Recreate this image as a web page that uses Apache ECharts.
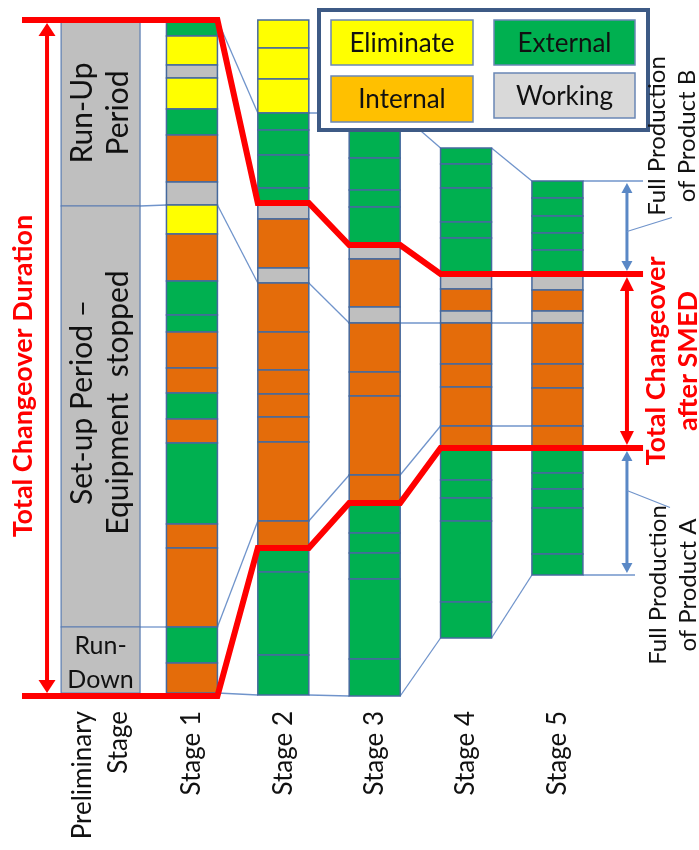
<!DOCTYPE html>
<html><head><meta charset="utf-8">
<script src="https://cdn.jsdelivr.net/npm/echarts@6/dist/echarts.min.js"></script>
<style>html,body{margin:0;padding:0;background:#fff}#chart{width:699px;height:850px}</style>
</head><body><div id="chart"></div>
<script>
// ---------------- DATA ----------------
const columnLabels = ['Preliminary\nStage', 'Stage 1', 'Stage 2', 'Stage 3', 'Stage 4', 'Stage 5'];
const activityTypes = ['Eliminate', 'External', 'Internal', 'Working'];
const activityCodes = ['Y', 'E', 'I', 'W'];

const prelimPhases = ['Run-Up\nPeriod', 'Set-up Period –\nEquipment  stopped', 'Run-\nDown'];
const prelimDurations = [186, 421, 66];

const stageStarts = [0, 0, 93, 128, 161];

const stage1Types = ['E','Y','W','Y','E','I','W','Y','I','E','E','I','I','E','I','E','I','I','E','I'];
const stage1Durations = [16,29,13,31,26,47,23,29,47,34,17,36,25,26,24,81,24,79,36,30];
const stage2Types = ['Y','Y','Y','E','E','E','E','W','I','W','I','I','I','I','I','I','I','E','E','E'];
const stage2Durations = [28,31,34,17,25,33,15,16,49,15,49,38,24,23,25,79,27,24,83,40];
const stage3Types = ['E','E','E','E','W','I','W','I','I','I','I','E','E','E','E','E'];
const stage3Durations = [45,32,17,38,14,48,16,49,24,79,28,30,20,26,80,37];
const stage4Types = ['E','E','E','E','E','W','I','W','I','I','I','I','E','E','E','E','E'];
const stage4Durations = [16,24,34,16,36,15,22,12,41,23,39,22,32,18,23,81,36];
const stage5Types = ['E','E','E','E','E','W','I','W','I','I','I','I','E','E','E','E','E'];
const stage5Durations = [17,18,17,17,24,16,21,12,41,24,38,22,25,16,19,46,21];

// changeover window per column (Preliminary, Stage 1..5)
const changeoverStart = [0, 0, 183, 225, 254, 254];
const changeoverEnd = [676, 676, 528, 483, 428, 428];

// milestone connector lines per column (Preliminary, Stage 1..5)
const connectorA = [null, 0, 93, 93, 128, 161];
const connectorB = [186, 185, 263, 303, 303, 303];
const connectorC = [607, 607, 501, 455, 406, 406];
const connectorD = [null, 673, 675, 676, 618, 555];

// ---------------- STYLE / LAYOUT ----------------
const FONT = 'Lato';
const barColors = { Y: '#FFFF00', E: '#00B050', I: '#E46C0A', W: '#BFBFBF' };
const legendColors = ['#FFFF00', '#00B050', '#FFC000', '#D9D9D9'];
const segStroke = '#45699E';
const connColor = '#7094CB';
const arrowBlue = '#5A88C6';
const RED = '#FF0000';
const stageHalf = 0.279, prelimHalf = 0.432;
const leftArrowX = -0.586, rightArrowX = 5.761, redLeftX = -0.86, redRightX = 5.937, blueTopExtX = 5.937, blueBotExtX = 5.849;

const stageTypes = [stage1Types, stage2Types, stage3Types, stage4Types, stage5Types];
const stageDurations = [stage1Durations, stage2Durations, stage3Durations, stage4Durations, stage5Durations];

const segData = [];
stageTypes.forEach((types, si) => {
  let t = stageStarts[si];
  types.forEach((c, k) => {
    const d = stageDurations[si][k];
    segData.push([si + 1, t, t + d, activityCodes.indexOf(c)]);
    t += d;
  });
});
const prelimData = [];
{
  let t = 0;
  prelimDurations.forEach((d, k) => { prelimData.push([0, t, t + d, k]); t += d; });
}

function renderSeg(params, api) {
  const ci = api.value(0), s = api.value(1), e = api.value(2), ty = api.value(3);
  const p1 = api.coord([ci - stageHalf, s]);
  const p2 = api.coord([ci + stageHalf, e]);
  return { type: 'rect', shape: { x: p1[0], y: p1[1], width: p2[0] - p1[0], height: p2[1] - p1[1] },
    style: { fill: barColors[activityCodes[ty]], stroke: segStroke, lineWidth: 1.5 } };
}

function renderPrelim(params, api) {
  const ci = api.value(0), s = api.value(1), e = api.value(2), k = api.value(3);
  const p1 = api.coord([ci - prelimHalf, s]);
  const p2 = api.coord([ci + prelimHalf, e]);
  const cx = (p1[0] + p2[0]) / 2, cy = (p1[1] + p2[1]) / 2;
  const horizontal = k === 2;
  return { type: 'group', children: [
    { type: 'rect', shape: { x: p1[0], y: p1[1], width: p2[0] - p1[0], height: p2[1] - p1[1] },
      style: { fill: '#BFBFBF', stroke: '#5B7DB1', lineWidth: 1.2 } },
    { type: 'text', x: cx, y: horizontal ? cy + 3 : cy - (k === 1 ? 14 : 0), rotation: horizontal ? 0 : Math.PI / 2,
      style: { text: prelimPhases[k], font: (horizontal ? 25 : 30) + 'px ' + FONT, fill: '#111',
        align: 'center', textAlign: 'center', verticalAlign: 'middle', textVerticalAlign: 'middle',
        lineHeight: horizontal ? 34 : 36 } }
  ] };
}

function renderLabels(params, api) {
  const ci = api.value(0);
  const p = api.coord([ci, changeoverEnd[1]]);
  return { type: 'text', x: p[0], y: p[1] + 15, rotation: Math.PI / 2,
    style: { text: columnLabels[ci], font: '26px ' + FONT, fill: '#111', align: 'right', textAlign: 'right',
      verticalAlign: 'middle', textVerticalAlign: 'middle', lineHeight: 36 } };
}

function renderConnectors(params, api) {
  const lines = [connectorA, connectorB, connectorC, connectorD];
  const children = [];
  lines.forEach((arr, li) => {
    for (let i = 0; i < arr.length - 1; i++) {
      if (arr[i] == null || arr[i + 1] == null) continue;
      const hi = i === 0 ? prelimHalf : stageHalf;
      const a = api.coord([i + hi, arr[i]]);
      const b = api.coord([i + 1 - stageHalf, arr[i + 1]]);
      children.push({ type: 'line', shape: { x1: a[0], y1: a[1], x2: b[0], y2: b[1] }, style: { stroke: connColor, lineWidth: 1.3 } });
    }
  });
  const last = columnLabels.length - 1;
  [[connectorA, blueTopExtX], [connectorD, blueBotExtX]].forEach(([arr, ex]) => {
    const a = api.coord([last + stageHalf, arr[last]]);
    const b = api.coord([ex, arr[last]]);
    children.push({ type: 'line', shape: { x1: a[0], y1: a[1], x2: b[0], y2: b[1] }, style: { stroke: connColor, lineWidth: 1.3 } });
  });
  return { type: 'group', children };
}

function renderRed(params, api) {
  const children = [];
  [changeoverStart, changeoverEnd].forEach(arr => {
    const pts = [api.coord([redLeftX, arr[1]])];
    for (let i = 1; i < arr.length; i++) {
      pts.push(api.coord([i - stageHalf, arr[i]]));
      pts.push(api.coord([i + stageHalf, arr[i]]));
    }
    pts.push(api.coord([redRightX, arr[arr.length - 1]]));
    children.push({ type: 'polyline', shape: { points: pts }, style: { stroke: RED, lineWidth: 6, fill: null, lineJoin: 'miter' } });
  });
  return { type: 'group', children };
}

function arrow(x, y1, y2, color, w, headW, headL) {
  return [
    { type: 'line', shape: { x1: x, y1: y1 + headL * 0.6, x2: x, y2: y2 - headL * 0.6 }, style: { stroke: color, lineWidth: w } },
    { type: 'polygon', shape: { points: [[x, y1], [x - headW / 2, y1 + headL], [x + headW / 2, y1 + headL]] }, style: { fill: color } },
    { type: 'polygon', shape: { points: [[x, y2], [x - headW / 2, y2 - headL], [x + headW / 2, y2 - headL]] }, style: { fill: color } }
  ];
}

function renderArrows(params, api) {
  const last = columnLabels.length - 1;
  const stage5End = stageStarts[4] + stage5Durations.reduce((a, b) => a + b, 0);
  const L1 = api.coord([leftArrowX, changeoverStart[1]]), L2 = api.coord([leftArrowX, changeoverEnd[1]]);
  const R0 = api.coord([rightArrowX, stageStarts[4]]);
  const R1 = api.coord([rightArrowX, changeoverStart[last]]);
  const R2 = api.coord([rightArrowX, changeoverEnd[last]]);
  const R3 = api.coord([rightArrowX, stage5End]);
  let children = [];
  children = children.concat(arrow(L1[0], L1[1] + 3, L2[1] - 3, RED, 4, 17, 13));
  children = children.concat(arrow(R1[0], R1[1] + 3, R2[1] - 3, RED, 4, 14, 14));
  children = children.concat(arrow(R0[0], R0[1] + 2, R1[1] - 3, arrowBlue, 3, 11, 10));
  children = children.concat(arrow(R2[0], R2[1] + 3, R3[1] - 2, arrowBlue, 3, 11, 10));
  const midB = (R0[1] + R1[1]) / 2, midA = (R2[1] + R3[1]) / 2;
  children.push({ type: 'line', shape: { x1: R0[0], y1: midB + 4, x2: R0[0] + 45, y2: midB - 10 }, style: { stroke: connColor, lineWidth: 1.2 } });
  children.push({ type: 'line', shape: { x1: R0[0], y1: midA - 21, x2: R0[0] + 43, y2: midA - 4 }, style: { stroke: connColor, lineWidth: 1.2 } });
  return { type: 'group', children };
}

// legend graphic
const legendBoxes = [
  [331, 20, 142, 45], [494, 20, 141, 45], [331, 76, 142, 46], [494, 73, 141, 45]
];
const legendOrder = [0, 1, 2, 3];
const graphic = [
  { type: 'rect', z: 100, shape: { x: 319, y: 10, width: 329, height: 120 }, style: { fill: '#fff', stroke: '#3D5A85', lineWidth: 4 } }
];
legendOrder.forEach((k, i) => {
  const b = legendBoxes[i];
  graphic.push({ type: 'rect', z: 101, shape: { x: b[0], y: b[1], width: b[2], height: b[3] }, style: { fill: legendColors[k], stroke: '#6A87B5', lineWidth: 1.5 } });
  graphic.push({ type: 'text', z: 102, x: b[0] + b[2] / 2, y: b[1] + b[3] / 2 + 1,
    style: { text: activityTypes[k], font: '26px ' + FONT, fill: '#111', align: 'center', textAlign: 'center', verticalAlign: 'middle', textVerticalAlign: 'middle' } });
});
function rotText(x, y, text, font, fill, lh) {
  return { type: 'text', z: 102, x, y, rotation: Math.PI / 2,
    style: { text, font, fill, align: 'center', textAlign: 'center', verticalAlign: 'middle', textVerticalAlign: 'middle', lineHeight: lh } };
}
graphic.push(rotText(23, 376, 'Total Changeover Duration', 'bold 27px ' + FONT, RED, 32));
graphic.push(rotText(672, 361, 'Total Changeover\nafter SMED', 'bold 27px ' + FONT, RED, 32));
graphic.push(rotText(672, 136, 'Full Production\nof Product B', '24px ' + FONT, '#111', 30));
graphic.push(rotText(673, 585, 'Full Production\nof Product A', '24px ' + FONT, '#111', 30));

const chart = echarts.init(document.getElementById('chart'), null, { renderer: 'canvas' });
chart.setOption({
  animation: false,
  backgroundColor: '#fff',
  grid: { left: 0, right: 0, top: 0, bottom: 0 },
  xAxis: { type: 'value', min: -1.1007, max: 6.5495, show: false },
  yAxis: { type: 'value', inverse: true, min: -20, max: 830, show: false },
  graphic,
  series: [
    { type: 'custom', name: 'connectors', renderItem: renderConnectors, data: [[0]], z: 2, silent: true },
    { type: 'custom', name: 'Preliminary', renderItem: renderPrelim, data: prelimData, z: 3, silent: true },
    { type: 'custom', name: 'activities', renderItem: renderSeg, data: segData, z: 3, silent: true },
    { type: 'custom', name: 'changeover', renderItem: renderRed, data: [[0]], z: 5, silent: true },
    { type: 'custom', name: 'arrows', renderItem: renderArrows, data: [[0]], z: 5, silent: true },
    { type: 'custom', name: 'labels', renderItem: renderLabels, data: columnLabels.map((c, i) => [i]), z: 5, silent: true }
  ]
});
</script></body></html>
